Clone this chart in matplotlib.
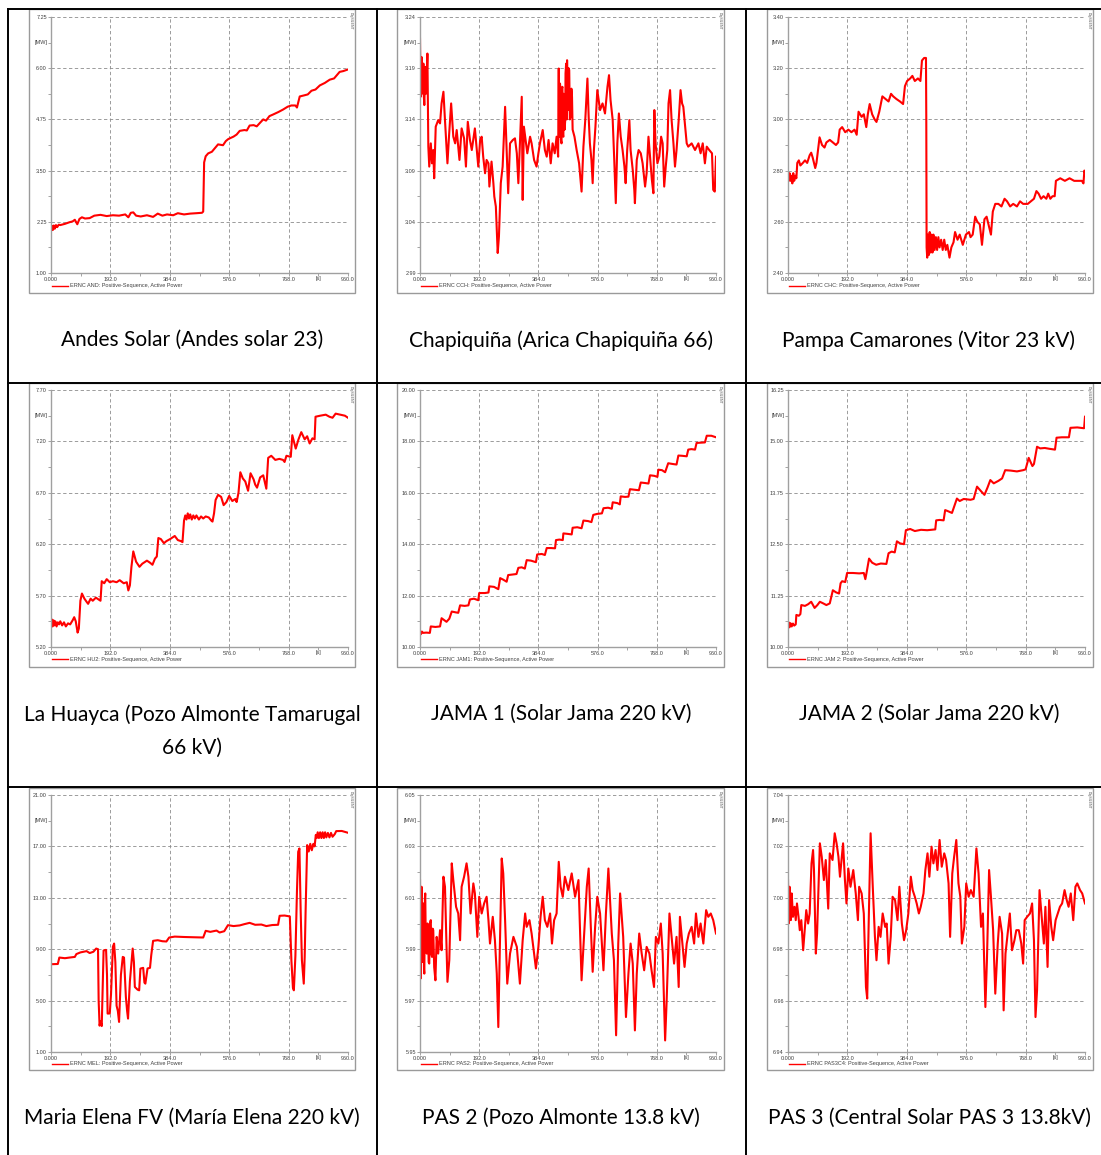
import matplotlib
matplotlib.use("Agg")
import matplotlib.pyplot as plt
from matplotlib.lines import Line2D
from matplotlib.patches import Rectangle

W, H = 1101, 1155
plt.rcParams['font.family'] = ['Liberation Sans', 'DejaVu Sans']

# --- time axis (s) ---
x_ticks = [0, 192, 384, 576, 768, 960]
x_labels = ["0.000", "192.0", "384.0", "576.0", "768.0", "960.0"]

# --- Andes Solar ---
andes_t = [0, 3, 6, 9, 12, 16, 20, 25, 30, 45, 60, 70, 77, 85, 92, 100, 110, 125, 140, 160, 180, 200, 220, 240,
           250, 258, 266, 275, 290, 310, 330, 345, 360, 375, 395, 410, 430, 450, 470, 488, 492, 495, 500, 508,
           520, 530, 540, 556, 565, 573, 590, 600, 610, 625, 633, 642, 655, 665, 676, 686, 695, 706, 718, 735,
           750, 765, 777, 790, 795, 804, 820, 830, 842, 855, 869, 885, 901, 915, 933, 945, 960]
andes_mw = [2.02, 2.15, 2.05, 2.16, 2.08, 2.17, 2.12, 2.18, 2.17, 2.20, 2.24, 2.26, 2.30, 2.19, 2.32, 2.36, 2.33,
            2.34, 2.40, 2.42, 2.39, 2.41, 2.40, 2.43, 2.36, 2.47, 2.48, 2.40, 2.38, 2.41, 2.37, 2.45, 2.40, 2.43,
            2.41, 2.46, 2.43, 2.45, 2.46, 2.47, 2.50, 3.70, 3.85, 3.92, 3.96, 4.05, 4.14, 4.12, 4.22, 4.27, 4.33,
            4.38, 4.47, 4.49, 4.48, 4.60, 4.61, 4.58, 4.67, 4.75, 4.72, 4.83, 4.87, 4.93, 4.99, 5.06, 5.09, 5.09,
            5.04, 5.31, 5.34, 5.36, 5.45, 5.48, 5.58, 5.64, 5.72, 5.75, 5.91, 5.93, 5.97]

# --- Chapiquiña ---
chapi_t = [0, 2, 3, 5, 7, 9, 11, 12, 14, 17, 19, 21, 24, 27, 30, 35, 39, 43, 46, 51, 59, 65, 70, 76, 81, 89, 94,
           101, 108, 114, 119, 128, 135, 143, 149, 155, 162, 168, 178, 189, 195, 200, 205, 211, 216, 222, 225, 232,
           238, 241, 246, 252, 256, 262, 268, 276, 281, 286, 292, 301, 308, 314, 319, 324, 330, 333, 337, 344, 348,
           357, 362, 370, 378, 384, 389, 398, 405, 411, 417, 424, 430, 437, 443, 448,
           450, 451, 453, 454, 456, 457, 459, 460, 462, 463, 465, 466, 468, 469, 471, 472, 474, 476, 477, 479, 480,
           482, 484, 486, 488, 491, 493, 495,
           501, 508, 516, 524, 530, 536, 543, 547, 551, 556, 560, 564, 569, 575, 584, 592, 600, 608, 613, 618, 625,
           630, 635, 640, 645, 651, 657, 663, 667, 672, 679, 683, 690, 695, 697, 703, 709, 716, 722, 730, 735, 741,
           746, 752, 757, 760, 764, 770, 776, 782, 787, 792, 797, 802, 806, 811, 816, 822, 827, 832, 839, 845, 850,
           854, 859, 865, 870, 881, 892, 903, 910, 917, 924, 930, 938, 947, 951, 956, 960]
chapi_mw = [3.2189, 3.162, 3.19, 3.201, 3.17, 3.1653, 3.1945, 3.165, 3.154, 3.1913, 3.165, 3.1718, 3.2043, 3.1134,
            3.0939, 3.1166, 3.0971, 3.1101, 3.0825, 3.1329, 3.1393, 3.1361, 3.1556, 3.167, 3.1393, 3.0971, 3.1231,
            3.1556, 3.1231, 3.1166, 3.1296, 3.1004, 3.1312, 3.1215, 3.0939, 3.1377, 3.1199, 3.1101, 3.1312, 3.0939,
            3.1199, 3.1231, 3.1036, 3.0874, 3.1004, 3.0971, 3.0744, 3.0988, 3.0777, 3.0647, 3.0549, 3.0095, 3.0257,
            3.0777, 3.0939, 3.1523, 3.1101, 3.0679, 3.1166, 3.1199, 3.1215, 3.1069, 3.0777, 3.1166, 3.1621, 3.0614,
            3.1329, 3.1166, 3.1069, 3.1231, 3.1166, 3.1004, 3.0939, 3.1069, 3.1166, 3.1296, 3.1101, 3.1036, 3.1199,
            3.0971, 3.1166, 3.1069, 3.1231, 3.1036,
            3.1897, 3.125, 3.1231, 3.175, 3.1686, 3.12, 3.1166, 3.17, 3.1718, 3.125, 3.1231, 3.165, 3.1621, 3.13,
            3.1393, 3.185, 3.1945, 3.14, 3.1978, 3.15, 3.1491, 3.19, 3.1881, 3.14, 3.1426, 3.17, 3.1621, 3.13,
            3.1231, 3.1101, 3.0971, 3.0695, 3.1134, 3.1393, 3.1799, 3.1426, 3.1166, 3.1004, 3.0777, 3.1101, 3.1329,
            3.1686, 3.1491, 3.1556, 3.1458, 3.1718, 3.1832, 3.1588, 3.1393, 3.1004, 3.0582, 3.1166, 3.1458, 3.1231,
            3.1101, 3.0939, 3.0777, 3.1101, 3.1393, 3.1101, 3.0906, 3.0712, 3.0582, 3.1004, 3.1101, 3.1069, 3.0971,
            3.0744, 3.0874, 3.1231, 3.1036, 3.0809, 3.0679, 3.1491, 3.1166, 3.0971, 3.1036, 3.1231, 3.1166, 3.0744,
            3.0939, 3.1101, 3.1556, 3.1686, 3.1393, 3.1166, 3.0939, 3.1101, 3.1393, 3.1686, 3.1556, 3.1523, 3.1361,
            3.1166, 3.1134, 3.1166, 3.1101, 3.1166, 3.1069, 3.1166, 3.0971, 3.1134, 3.1101, 3.1069, 3.0712, 3.0695,
            3.1036]

# --- Pampa Camarones ---
pampa_t = [0, 2, 5, 8, 11, 14, 17, 20, 24, 27, 30, 35, 40, 48, 55, 62, 70, 75, 80, 88, 92, 97, 102, 110, 118, 124,
           135, 145, 155, 162, 167, 175, 185, 195, 205, 215, 222, 228, 238, 245, 253, 258, 264, 272, 280, 286, 295,
           305, 315, 325, 333, 340, 350, 362, 372, 378, 385, 395, 402, 410, 420, 428, 433, 440, 446, 447, 448, 450,
           452, 455, 458, 461, 464, 467, 470, 474, 478, 482, 486, 490, 495, 500, 505, 510, 515, 522, 528, 535, 540,
           548, 555, 565, 575, 585, 590, 597, 605, 612, 620, 627, 635, 642, 650, 656, 662, 670, 680, 690, 700, 708,
           718, 728, 740, 750, 760, 775, 785, 795, 803, 810, 818, 826, 835, 841, 848, 855, 862, 866, 880, 895, 910,
           925, 940, 950, 955, 958, 960]
pampa_mw = [2.79, 2.76, 2.79, 2.76, 2.78, 2.75, 2.79, 2.76, 2.78, 2.77, 2.83, 2.84, 2.82, 2.83, 2.84, 2.83, 2.86,
            2.87, 2.85, 2.81, 2.83, 2.88, 2.93, 2.90, 2.89, 2.91, 2.92, 2.91, 2.90, 2.91, 2.96, 2.97, 2.95, 2.96,
            2.95, 2.96, 2.94, 3.03, 3.01, 3.02, 2.97, 3.02, 3.06, 3.02, 3.00, 2.99, 3.03, 3.09, 3.08, 3.07, 3.10,
            3.09, 3.08, 3.07, 3.06, 3.13, 3.15, 3.16, 3.17, 3.15, 3.16, 3.15, 3.23, 3.24, 3.24, 3.00, 2.50, 2.46,
            2.55, 2.47, 2.56, 2.48, 2.55, 2.48, 2.55, 2.49, 2.54, 2.49, 2.54, 2.50, 2.53, 2.49, 2.53, 2.49, 2.51,
            2.46, 2.50, 2.52, 2.56, 2.53, 2.55, 2.51, 2.55, 2.56, 2.54, 2.55, 2.62, 2.60, 2.59, 2.51, 2.61, 2.62,
            2.58, 2.55, 2.64, 2.67, 2.67, 2.66, 2.69, 2.68, 2.66, 2.67, 2.66, 2.68, 2.67, 2.67, 2.68, 2.69, 2.72,
            2.71, 2.69, 2.70, 2.69, 2.71, 2.69, 2.70, 2.70, 2.76, 2.77, 2.76, 2.77, 2.76, 2.76, 2.76, 2.75, 2.80,
            2.79]

# --- La Huayca ---
huayca_t = [0, 2, 5, 8, 11, 14, 18, 22, 26, 30, 36, 42, 48, 55, 62, 70, 75, 80, 86, 90, 95, 100, 108, 115, 120, 128,
            135, 145, 155, 160, 164, 172, 180, 190, 200, 212, 222, 235, 245, 250, 255, 260, 266, 275, 286, 295, 310,
            320, 328, 336, 342, 347, 355, 365, 373, 385, 400, 410, 420, 425, 430, 434, 438, 442, 446, 450, 455, 460,
            465, 470, 478, 485, 492, 500, 510, 518, 522, 527, 532, 540, 550, 558, 567, 576, 586, 596, 600, 606, 612,
            620, 628, 637, 645, 655, 660, 666, 676, 686, 696, 702, 712, 725, 738, 750, 755, 761, 775, 780, 791, 800,
            809, 820, 828, 836, 845, 852, 855, 870, 888, 900, 910, 920, 935, 950, 960]
huayca_mw = [5.41, 5.47, 5.40, 5.46, 5.41, 5.45, 5.40, 5.44, 5.42, 5.45, 5.41, 5.44, 5.40, 5.43, 5.42, 5.46, 5.49,
             5.45, 5.34, 5.38, 5.65, 5.72, 5.67, 5.64, 5.62, 5.67, 5.65, 5.68, 5.66, 5.65, 5.84, 5.82, 5.86, 5.83,
             5.84, 5.83, 5.85, 5.82, 5.83, 5.75, 5.80, 5.98, 6.13, 6.03, 5.98, 6.01, 6.04, 6.02, 6.00, 6.06, 6.08,
             6.26, 6.25, 6.21, 6.23, 6.25, 6.28, 6.24, 6.23, 6.22, 6.43, 6.48, 6.44, 6.50, 6.45, 6.49, 6.44, 6.48,
             6.45, 6.48, 6.44, 6.47, 6.45, 6.47, 6.46, 6.43, 6.42, 6.50, 6.63, 6.68, 6.66, 6.58, 6.61, 6.67, 6.62,
             6.64, 6.61, 6.70, 6.90, 6.84, 6.81, 6.72, 6.89, 6.83, 6.78, 6.75, 6.85, 6.87, 6.74, 7.04, 7.06, 7.02,
             7.03, 7.02, 7.00, 7.06, 7.05, 7.26, 7.13, 7.22, 7.29, 7.22, 7.25, 7.18, 7.23, 7.22, 7.44, 7.45, 7.46,
             7.44, 7.43, 7.47, 7.46, 7.45, 7.43]

# --- JAMA 1 ---
jama1_t = [0, 3, 6, 10, 20, 32, 35, 50, 65, 70, 78, 86, 95, 103, 115, 124, 130, 145, 157, 162, 175, 189, 192, 210,
           222, 225, 240, 254, 260, 270, 281, 286, 300, 313, 319, 330, 340, 346, 360, 376, 380, 395, 405, 411, 425,
           438, 441, 452, 463, 465, 480, 492, 495, 510, 524, 530, 545, 556, 562, 575, 590, 595, 610, 622, 625, 640,
           648, 651, 665, 676, 681, 695, 710, 716, 730, 741, 746, 760, 770, 773, 785, 795, 805, 820, 832, 838, 850,
           865, 870, 880, 892, 897, 910, 924, 930, 945, 960]
jama1_mw = [10.62, 10.50, 10.60, 10.55, 10.56, 10.55, 10.80, 10.78, 10.80, 11.12, 11.05, 10.98, 11.10, 11.38,
            11.35, 11.33, 11.62, 11.60, 11.62, 11.85, 11.88, 11.82, 12.10, 12.10, 12.12, 12.36, 12.34, 12.25,
            12.68, 12.62, 12.54, 12.80, 12.82, 12.84, 13.08, 13.10, 13.05, 13.38, 13.36, 13.30, 13.60, 13.62,
            13.58, 13.85, 13.85, 13.84, 14.16, 14.18, 14.16, 14.42, 14.40, 14.38, 14.64, 14.66, 14.62, 14.92,
            14.90, 14.86, 15.14, 15.18, 15.20, 15.40, 15.42, 15.38, 15.63, 15.60, 15.55, 15.86, 15.84, 15.85,
            16.14, 16.12, 16.10, 16.40, 16.38, 16.36, 16.68, 16.66, 16.62, 16.90, 16.88, 16.80, 17.15, 17.12,
            17.10, 17.45, 17.44, 17.42, 17.68, 17.70, 17.68, 17.94, 17.95, 17.96, 18.22, 18.22, 18.16]

# --- JAMA 2 ---
jama2_t = [0, 2, 5, 8, 12, 16, 20, 25, 27, 35, 40, 43, 55, 65, 75, 86, 95, 103, 114, 124, 135, 145, 155, 165, 170,
           175, 185, 191, 210, 230, 245, 250, 255, 262, 272, 285, 300, 318, 325, 335, 345, 352, 362, 375, 381, 395,
           410, 430, 450, 476, 479, 490, 503, 508, 518, 530, 546, 555, 568, 590, 600, 611, 625, 635, 645, 654, 665,
           680, 692, 702, 720, 740, 760, 768, 778, 790, 795, 805, 815, 830, 845, 863, 868, 885, 908, 913, 935, 957,
           960]
jama2_mw = [10.45, 10.60, 10.48, 10.58, 10.50, 10.57, 10.52, 10.55, 10.78, 10.76, 10.80, 11.02, 11.00, 11.04,
            11.10, 10.95, 11.02, 11.10, 11.06, 11.02, 11.06, 11.38, 11.33, 11.30, 11.55, 11.60, 11.58, 11.80,
            11.80, 11.79, 11.80, 11.65, 11.85, 12.15, 12.05, 12.00, 12.03, 12.02, 12.28, 12.32, 12.30, 12.57,
            12.52, 12.50, 12.84, 12.87, 12.82, 12.85, 12.84, 12.86, 13.08, 13.09, 13.08, 13.33, 13.30, 13.26,
            13.61, 13.55, 13.60, 13.58, 13.60, 13.90, 13.78, 13.70, 13.88, 14.06, 13.98, 14.04, 14.10, 14.30,
            14.29, 14.27, 14.30, 14.32, 14.60, 14.40, 14.45, 14.87, 14.83, 14.84, 14.82, 14.80, 15.09, 15.10,
            15.10, 15.33, 15.34, 15.32, 15.60]

# --- Maria Elena FV ---
mel_t = [0, 22, 27, 45, 60, 77, 82, 95, 105, 115, 125, 137, 146, 152, 154, 157, 160, 164, 166, 170, 178, 181, 183,
         190, 194, 200, 204, 208, 212, 216, 220, 226, 232, 236, 242, 246, 249, 255, 264, 268, 271, 280, 285, 289,
         298, 302, 305, 312, 320, 324, 330, 345, 360, 373, 382, 400, 430, 460, 492, 500, 515, 535, 545, 560, 572,
         590, 610, 625, 642, 660, 680, 696, 715, 734, 739, 755, 772, 777, 782, 785, 790, 795, 799, 803, 807, 811,
         817, 820, 823, 828, 833, 838, 843, 848, 852, 856, 859, 862, 866, 870, 874, 878, 882, 886, 890, 895, 900,
         905, 910, 917, 922, 940, 960]
mel_mw = [7.83, 7.85, 8.35, 8.30, 8.35, 8.40, 8.62, 8.75, 8.80, 8.85, 8.70, 8.80, 9.05, 9.00, 5.00, 3.05, 3.40,
          3.02, 5.00, 8.90, 8.95, 7.00, 3.99, 4.00, 5.50, 9.20, 9.44, 8.00, 4.60, 4.20, 3.34, 7.00, 8.40, 8.35,
          5.29, 4.20, 3.60, 6.50, 9.05, 8.00, 6.06, 5.85, 5.80, 7.49, 7.55, 6.40, 6.32, 7.50, 7.55, 8.53, 9.65,
          9.70, 9.62, 9.60, 9.91, 9.98, 9.95, 9.93, 9.91, 10.43, 10.35, 10.45, 10.30, 10.40, 10.87, 10.80, 10.85,
          10.95, 11.05, 10.90, 10.92, 10.80, 10.88, 10.90, 11.60, 11.62, 11.55, 8.14, 6.00, 5.80, 8.50, 13.50,
          16.58, 16.84, 12.00, 8.14, 6.32, 8.40, 12.00, 17.10, 16.60, 17.20, 16.70, 17.20, 17.00, 17.90, 17.65,
          18.10, 17.65, 18.10, 17.65, 18.10, 17.65, 18.10, 17.70, 18.05, 17.70, 18.05, 17.75, 17.95, 18.19,
          18.20, 18.06]

# --- PAS 2 ---
pas2_t = [0, 1, 2, 4, 5, 7, 9, 10, 11, 13, 14, 16, 17, 19, 22, 24, 26, 28, 30, 32, 35, 37, 39, 41, 43, 46, 50, 54,
          59, 65, 70, 76, 81, 89, 95, 103, 108, 117, 124,
          130, 135, 143, 151, 157, 164, 173, 178, 186, 192, 200, 208, 216, 222, 227, 236, 243, 249, 254, 259, 265,
          270, 276, 283, 292, 303, 314, 324, 333, 341, 346, 355, 362, 370, 376, 384, 391, 398, 405, 413, 422, 428,
          435, 443, 450, 456, 463, 470, 481, 492, 503, 514, 524, 532, 541, 547, 554, 560, 568, 575, 584, 595, 603,
          611, 622, 629, 636, 643, 649, 659, 668, 676, 683, 690, 697, 703, 711, 719, 727, 735, 744, 751, 759, 765,
          773, 781, 787, 795, 800, 809, 816, 824, 832, 839, 843, 852, 858, 865, 872, 881, 889, 895, 903, 910, 919,
          928, 935, 943, 951, 960]
pas2_mw = [6.0169, 5.9900, 5.9786, 6.0100, 6.0143, 5.9850, 5.9857, 6.0050, 6.0078, 5.9820, 5.9805, 6.0100, 6.0117,
           5.9900, 5.9883, 6.0000, 5.9987, 5.9850, 5.9844, 6.0000, 6.0013, 5.9880, 5.9870, 5.9980, 5.9974, 5.9830,
           5.9779, 5.9948, 5.9883, 5.9974, 5.9896, 6.0182, 6.0143, 5.9773, 5.9857, 6.0234, 6.0169, 6.0065, 6.0039,
           5.9935, 6.0143, 6.0182, 6.0234, 6.0182, 6.0039, 6.0156, 6.0117, 5.9948, 6.0104, 6.0039, 6.0078, 6.0104,
           6.0013, 5.9922, 6.0026, 5.9935, 5.9805, 5.9597, 5.9909, 6.0253, 6.0195, 6.0013, 5.9766, 5.9883, 5.9948,
           5.9909, 5.9766, 5.9935, 6.0039, 5.9987, 6.0013, 5.9961, 5.9883, 5.9825, 5.9909, 6.0026, 6.0104, 6.0013,
           5.9987, 6.0039, 5.9922, 6.0013, 6.0039, 6.0240, 6.0143, 6.0104, 6.0182, 6.0130, 6.0195, 6.0104, 6.0169,
           5.9779, 5.9948, 6.0143, 6.0214, 5.9987, 5.9812, 5.9987, 6.0104, 6.0039, 5.9818, 6.0039, 6.0214, 5.9961,
           5.9857, 5.9565, 5.9922, 6.0117, 5.9948, 5.9636, 5.9805, 5.9922, 5.9844, 5.9584, 5.9805, 5.9961, 5.9883,
           5.9818, 5.9909, 5.9883, 5.9818, 5.9753, 5.9948, 5.9922, 6.0000, 5.9883, 5.9545, 5.9701, 6.0039, 5.9948,
           5.9844, 5.9948, 5.9753, 6.0026, 5.9909, 5.9831, 5.9922, 5.9961, 5.9987, 5.9922, 6.0039, 5.9948, 6.0000,
           5.9922, 6.0052, 6.0026, 6.0039, 6.0013, 5.9961]

# --- PAS 3 ---
pas3_t = [0, 2, 5, 9, 12, 16, 21, 25, 29, 34, 38, 43, 49, 54, 59, 65, 70, 76, 81, 84, 90, 94, 103, 109, 116, 122,
          130, 135, 144, 151, 157, 163, 168, 173, 178, 184, 189, 195, 202, 211, 219, 226, 230, 238, 245, 252, 256,
          261, 267, 274, 281, 286, 293, 299, 306, 314, 319, 325, 332, 338, 346, 354, 360, 368, 375, 382, 389, 397,
          403, 410, 416, 423, 429, 438, 444, 451, 457, 464, 470, 477, 483, 490, 497, 505, 511, 519, 524, 531, 537,
          544, 551, 557, 562, 570, 576, 584, 591, 600, 609, 616, 624, 630, 638, 643, 650, 656, 663, 670, 678, 684,
          692, 697, 703, 710, 717, 724, 732, 738, 746, 754, 760, 765, 773, 782, 789, 795, 800, 805, 813, 819, 827,
          832, 839, 844, 851, 857, 865, 872, 879, 886, 894, 901, 907, 914, 922, 929, 935, 944, 951, 960]
pas3_mw = [7.0069, 6.9900, 7.0043, 6.9913, 7.0017, 6.9926, 6.9965, 6.9913, 6.9978, 6.9926, 6.9874, 6.9913, 6.9796,
           6.9874, 6.9952, 6.9900, 6.9939, 7.0134, 7.0186, 7.0108, 6.9783, 6.9861, 7.0212, 7.0160, 7.0069, 7.0147,
           6.9958, 7.0173, 7.0147, 7.0251, 7.0212, 7.0160, 7.0082, 7.0147, 7.0212, 7.0069, 6.9978, 7.0114, 7.0043,
           7.0108, 7.0017, 6.9913, 7.0043, 7.0017, 6.9939, 6.9653, 6.9608, 6.9913, 7.0251, 7.0043, 6.9848, 6.9757,
           6.9887, 6.9848, 6.9939, 6.9887, 6.9900, 6.9744, 6.9848, 7.0004, 6.9991, 6.9913, 7.0043, 6.9900, 6.9835,
           6.9874, 6.9939, 7.0082, 7.0030, 7.0004, 6.9978, 6.9939, 6.9965, 7.0017, 7.0108, 7.0173, 7.0082, 7.0199,
           7.0134, 7.0186, 7.0108, 7.0225, 7.0121, 7.0173, 7.0147, 7.0056, 6.9848, 7.0095, 7.0160, 7.0225, 7.0056,
           7.0004, 6.9822, 6.9887, 7.0056, 7.0004, 7.0030, 7.0004, 7.0192, 7.0095, 6.9887, 6.9939, 6.9575, 6.9757,
           7.0108, 7.0004, 6.9874, 6.9627, 6.9822, 6.9926, 6.9861, 6.9562, 6.9783, 6.9861, 6.9939, 6.9796, 6.9835,
           6.9874, 6.9874, 6.9822, 6.9744, 6.9913, 6.9926, 6.9939, 6.9978, 6.9835, 6.9536, 6.9640, 7.0030, 6.9939,
           6.9822, 6.9965, 6.9731, 6.9991, 6.9887, 6.9835, 6.9913, 6.9939, 6.9965, 6.9978, 7.0030, 6.9991, 6.9965,
           7.0017, 6.9913, 7.0043, 7.0056, 7.0030, 7.0017, 6.9978]

# y tick labels of each panel
andes_yt = [1.00, 2.25, 3.50, 4.75, 6.00, 7.25]
chapi_yt = [2.99, 3.04, 3.09, 3.14, 3.19, 3.24]
pampa_yt = [2.40, 2.60, 2.80, 3.00, 3.20, 3.40]
huayca_yt = [5.20, 5.70, 6.20, 6.70, 7.20, 7.70]
jama1_yt = [10.00, 12.00, 14.00, 16.00, 18.00, 20.00]
jama2_yt = [10.00, 11.25, 12.50, 13.75, 15.00, 16.25]
mel_yt = [1.00, 5.00, 9.00, 13.00, 17.00, 21.00]
pas2_yt = [5.95, 5.97, 5.99, 6.01, 6.03, 6.05]
pas3_yt = [6.94, 6.96, 6.98, 7.00, 7.02, 7.04]

legends = ["ERNC AND: Positive-Sequence, Active Power", "ERNC CCH: Positive-Sequence, Active Power",
           "ERNC CHC: Positive-Sequence, Active Power", "ERNC HU2: Positive-Sequence, Active Power",
           "ERNC JAM1: Positive-Sequence, Active Power", "ERNC JAM 2: Positive-Sequence, Active Power",
           "ERNC MEL: Positive-Sequence, Active Power", "ERNC PAS2: Positive-Sequence, Active Power",
           "ERNC PAS3C4: Positive-Sequence, Active Power"]
captions = ["Andes Solar (Andes solar 23)", "Chapiquiña (Arica Chapiquiña 66)", "Pampa Camarones (Vitor 23 kV)",
            "La Huayca (Pozo Almonte Tamarugal\n66 kV)", "JAMA 1 (Solar Jama 220 kV)", "JAMA 2 (Solar Jama 220 kV)",
            "Maria Elena FV (María Elena 220 kV)", "PAS 2 (Pozo Almonte 13.8 kV)",
            "PAS 3 (Central Solar PAS 3 13.8kV)"]

series = [(andes_t, andes_mw, andes_yt), (chapi_t, chapi_mw, chapi_yt), (pampa_t, pampa_mw, pampa_yt),
          (huayca_t, huayca_mw, huayca_yt), (jama1_t, jama1_mw, jama1_yt), (jama2_t, jama2_mw, jama2_yt),
          (mel_t, mel_mw, mel_yt), (pas2_t, pas2_mw, pas2_yt), (pas3_t, pas3_mw, pas3_yt)]

# layout in pixels
ax_left = [51, 420, 788]
ax_right = [348, 716, 1085]
ax_top = [17, 390, 795]
ax_bot = [273, 647, 1052]
frame_x = [(29, 355), (397, 724), (767, 1093)]
frame_y = [(9, 293), (383, 667), (788, 1070)]
legend_y = [286, 659, 1064]
cap_x = [192, 561, 929]
cap_y = [340, 714, 1118]

fig = plt.figure(figsize=(W / 100, H / 100), dpi=100)


def fx(px):
    return px / W


def fy(py):
    return 1 - py / H


for i, (t, mw, yt) in enumerate(series):
    r, c = divmod(i, 3)
    ax = fig.add_axes([fx(ax_left[c]), fy(ax_bot[r]), fx(ax_right[c] - ax_left[c]),
                       (ax_bot[r] - ax_top[r]) / H])
    ax.plot(t, mw, color='#ff0000', lw=1.5)
    ax.set_xlim(0, 960)
    ax.set_ylim(yt[0], yt[-1])
    ax.set_xticks(x_ticks)
    ax.set_xticklabels(x_labels)
    ax.set_yticks(yt)
    ax.set_yticklabels([f"{v:.2f}" for v in yt])
    ax.set_xticks([96, 288, 480, 672, 864], minor=True)
    step = (yt[1] - yt[0]) / 2
    ax.set_yticks([v + step for v in yt[:-1]], minor=True)
    ax.tick_params(which='both', labelsize=4, length=2, width=0.5, color='#808080',
                   labelcolor='#404040', pad=1)
    ax.grid(True, which='major', ls=(0, (4, 3)), color='#8c8c8c', lw=0.6)
    for s in ['top', 'right']:
        ax.spines[s].set_visible(False)
    for s in ['left', 'bottom']:
        ax.spines[s].set_color('#a0a0a0')
        ax.spines[s].set_linewidth(1.0)
    ax.text(-0.012, 0.9, "[MW]", transform=ax.transAxes, ha='right', va='center', fontsize=4, color='#404040')
    ax.text(864, -0.012, "[s]", transform=ax.get_xaxis_transform(), ha='center', va='top', fontsize=4,
            color='#404040')

    # legend below the plot
    ly = fy(legend_y[r])
    fig.add_artist(Line2D([fx(ax_left[c] + 1), fx(ax_left[c] + 17)], [ly, ly], color='#ff0000', lw=1))
    fig.text(fx(ax_left[c] + 19), ly, legends[i], fontsize=4, va='center', ha='left', color='#404040')

    # chart frame and DIgSILENT mark
    x0, x1 = frame_x[c]
    y0, y1 = frame_y[r]
    fig.add_artist(Rectangle((fx(x0), fy(y1)), fx(x1 - x0), (y1 - y0) / H, fill=False,
                             ec='#9a9a9a', lw=1.0))
    fig.text(fx(x1 - 2), fy(y0 + 3), "DIgSILENT", fontsize=2.5, rotation=-90, ha='right', va='top',
             color='#505050')

    # caption under each chart (first line centred on cap_y)
    fig.text(fx(cap_x[c]), fy(cap_y[r] - 10), captions[i], fontsize=15, family='Lato', ha='center',
             va='top', linespacing=1.8, color='black')

# table rules
for xv in [8, 376.5, 745.5]:
    fig.add_artist(Line2D([fx(xv), fx(xv)], [0, fy(9)], color='black', lw=1.4))
for yv in [9, 382.5, 787]:
    fig.add_artist(Line2D([fx(8), 1], [fy(yv), fy(yv)], color='black', lw=1.4))

fig.savefig("out.png", dpi=100)
